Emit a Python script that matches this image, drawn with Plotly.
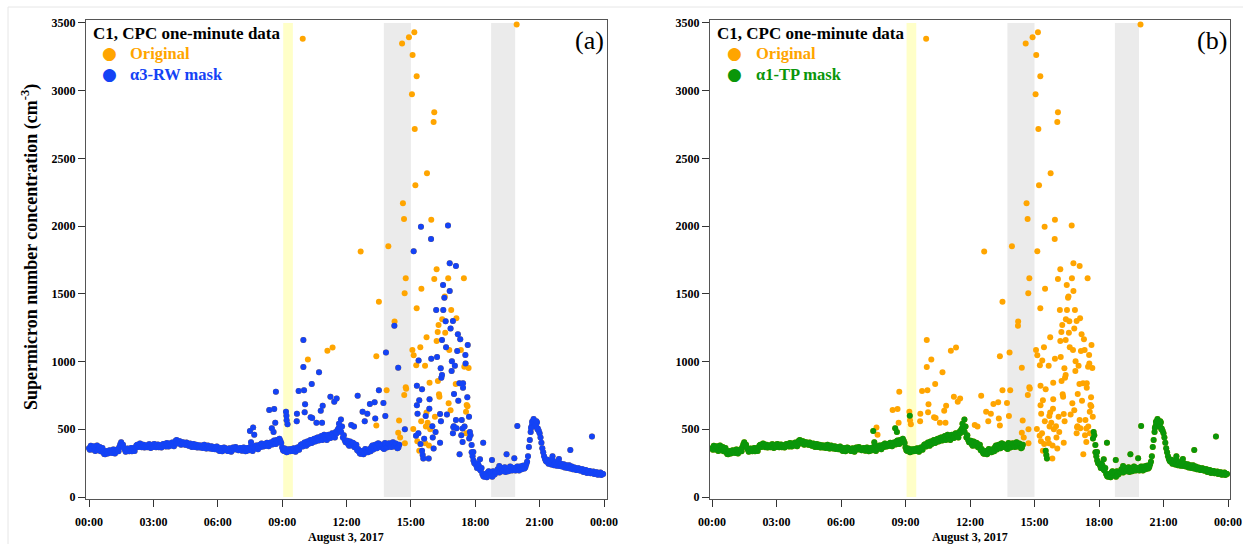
import plotly.graph_objects as go

# ---------------- data ----------------
# baseline one-minute concentrations sampled every 5 minutes (cm^-3), None = no baseline (cloud)
base_vals = [
    # 00
    360, 378, 350, 372, 365, 345, 370, 352, 330, 315, 335, 325,
    # 01
    340, 325, 348, 335, 352, 370, 405, 385, 350, 340, 355, 345,
    # 02
    338, 352, 365, 385, 372, 390, 378, 365, 380, 372, 388, 375,
    # 03
    370, 385, 378, 368, 382, 375, 390, 372, 385, 395, 380, 392,
    # 04
    405, 420, 398, 410, 392, 400, 385, 395, 378, 390, 382, 370,
    # 05
    385, 372, 365, 380, 368, 375, 360, 372, 365, 355, 368, 360,
    # 06
    352, 340, 358, 345, 362, 350, 340, 355, 348, 362, 370, 355,
    # 07
    348, 360, 345, 352, 340, 358, 365, 352, 372, 360, 378, 365,
    # 08
    370, 385, 392, 378, 395, 385, 400, 410, 395, 420, 405, 415,
    # 09
    365, 340, 350, 335, 345, 355, 340, 352, 345, 360, 375, 390,
    # 10
    385, 400, 410, 395, 420, 405, 430, 415, 440, 425, 450, 430,
    # 11
    445, 420, 460, 435, 470, 450, 480, 495, 510, 480, 440, 420,
    # 12
    405, 390, 410, 380, 395, 370, 345, 335, 320, 340, 325, 345,
    # 13
    330, 355, 370, 350, 385, 360, 395, 370, 380, 355, 390, 370,
    # 14
    395, 370, 405, 380, 390, 365, None, None, None, None, None, None,
    # 15
    None, None, None, None, None, None, None, None, None, None, None, None,
    # 16
    None, None, None, None, None, None, None, None, None, None, None, None,
    # 17
    None, None, None, None, None, None, None, None, None, None, 330, 270,
    # 18
    250, 215, 230, 195, 170, 150, 165, 180, 160, 175, 190, 170,
    # 19
    185, 205, 190, 215, 200, 185, 210, 195, 220, 200, 215, 205,
    # 20
    210, 225, 205, 230, 220, 260, 370, 480, 540, 560, 520, 505,
    # 21
    470, 400, 330, 280, 260, 245, 265, 250, 235, 255, 240, 228,
    # 22
    245, 230, 218, 235, 225, 210, 225, 205, 215, 200, 210, 195,
    # 23
    205, 190, 198, 185, 192, 178, 188, 175, 182, 168, 180, 172,
]
# second baseline sample, 2.5 minutes after each of the above
base_vals_b = [
    348, 365, 372, 340, 380, 358, 338, 362, 318, 340, 322, 345,
    330, 350, 322, 345, 338, 390, 380, 362, 335, 358, 338, 362,
    360, 340, 380, 370, 395, 368, 385, 372, 368, 390, 362, 385,
    392, 368, 388, 380, 365, 392, 378, 398, 372, 388, 402, 375,
    415, 395, 412, 385, 405, 388, 402, 380, 395, 370, 392, 378,
    365, 382, 375, 362, 385, 358, 380, 358, 375, 368, 352, 372,
    345, 362, 338, 365, 348, 340, 360, 335, 365, 350, 358, 345,
    362, 342, 365, 338, 362, 345, 372, 340, 358, 380, 352, 385,
    395, 372, 380, 400, 375, 402, 388, 418, 392, 410, 430, 398,
    345, 358, 330, 352, 338, 342, 360, 335, 365, 348, 385, 372,
    402, 378, 392, 418, 398, 425, 410, 438, 418, 445, 420, 460,
    430, 455, 438, 450, 462, 440, 470, 505, 490, 520, 455, 405,
    415, 378, 395, 400, 368, 385, 355, 322, 338, 315, 355, 335,
    348, 338, 380, 362, 372, 395, 372, 385, 360, 398, 365, 395,
    380, 398, 372, 395, 360, 385, None, None, None, None, None, None,
    None, None, None, None, None, None, None, None, None, None, None, None,
    None, None, None, None, None, None, None, None, None, None, None, None,
    None, None, None, None, None, None, None, None, None, None, 300, 250,
    235, 245, 205, 215, 155, 170, 145, 190, 175, 150, 165, 185,
    205, 180, 210, 190, 220, 200, 190, 225, 195, 215, 195, 225,
    195, 215, 230, 210, 240, 300, 420, 520, 565, 530, 550, 490,
    440, 360, 300, 265, 275, 255, 240, 270, 245, 230, 252, 240,
    225, 242, 230, 215, 235, 220, 205, 218, 200, 212, 195, 205,
    185, 200, 178, 192, 175, 185, 170, 180, 165, 175, 162, 170,
]
base_step_min = 5

# scattered points above the baseline: hour of day, value, kept by a3-RW mask, kept by a1-TP mask
spk_h = [7.50, 7.65, 7.70, 7.55, 8.40, 8.63, 8.68, 8.52, 8.60, 8.71, 9.18, 9.20, 9.21, 9.25,
         9.69, 9.68, 9.77, 9.99, 9.99, 10.02, 10.07, 10.05, 10.20, 10.38, 10.40, 10.72, 10.86,
         10.60, 10.89, 10.80, 10.33, 11.11, 11.35, 11.25, 11.43, 11.54, 11.74, 11.65, 12.22,
         12.35, 12.52, 12.66, 12.75, 12.97, 12.85, 13.09, 13.31, 13.34, 13.39, 13.39, 13.51,
         13.51, 13.72, 13.81, 13.84, 13.87, 13.95, 14.23, 14.24, 14.41, 14.41, 14.45, 14.50,
         14.59, 14.63, 14.68, 14.69, 14.71, 14.72, 14.72, 14.76, 14.76, 14.78, 14.91, 15.05,
         15.08, 15.07, 15.11, 15.13, 15.13, 15.16, 15.18, 15.21, 15.24, 15.25, 15.27, 15.27,
         15.28, 15.28, 15.30, 15.31, 15.36, 15.39, 15.39, 15.44, 15.45, 15.47, 15.49, 15.52,
         15.52, 15.58, 15.55, 15.66, 15.67, 15.69, 15.73, 15.73, 15.75, 15.78, 15.83, 15.84,
         15.86, 15.87, 15.87, 15.90, 15.94, 15.95, 15.95, 16.00, 16.06, 16.06, 16.09, 16.09,
         16.12, 16.18, 16.20, 16.20, 16.22, 16.25, 16.26, 16.29, 16.31, 16.33, 16.36, 16.36,
         16.39, 16.42, 16.45, 16.45, 16.46, 16.50, 16.51, 16.56, 16.58, 16.60, 16.62, 16.64,
         16.73, 16.74, 16.76, 16.79, 16.81, 16.81, 16.85, 16.88, 16.90, 16.91, 16.96, 16.96,
         16.98, 17.00, 17.01, 17.05, 17.09, 17.10, 17.10, 17.12, 17.13, 17.16, 17.19, 17.21,
         17.26, 17.27, 17.30, 17.33, 17.37, 17.41, 17.41, 17.43, 17.43, 17.47, 17.49, 17.54,
         17.55, 17.57, 17.60, 17.63, 17.64, 17.65, 17.69, 17.71, 17.72, 17.75, 17.78, 17.83,
         17.91, 18.37, 18.22, 18.78, 19.12, 19.46, 19.82, 19.96, 19.93, 9.96, 20.65, 20.72,
         20.80, 20.85, 20.90, 20.60, 21.60, 22.43, 23.44, 21.90,
         15.35, 15.62, 15.70, 16.15, 16.40, 16.68, 16.85, 17.35, 17.50, 17.58, 15.48, 16.02]
spk_v = [487, 514, 460, 404, 642, 650, 549, 507, 480, 778, 630, 600, 566, 537,
         615, 560, 783, 1159, 960, 788, 684, 625, 1016, 834, 584, 921, 549,
         549, 674, 637, 588, 1080, 1103, 741, 704, 728, 573, 540, 532,
         520, 748, 1812, 630, 615, 560, 687, 699, 580, 1039, 527, 788,
         1442, 694, 598, 1066, 788, 1851, 1265, 1295, 955, 475, 564, 440,
         3348, 2169, 2053, 753, 1504, 500, 396, 1615, 810, 800, 3394, 2973,
         3264, 1085, 502, 1814, 1046, 3431, 2717, 2302, 453, 972, 3106, 1393,
         822, 677, 411, 615, 1007, 714, 342, 1105, 391, 1996, 1538, 795,
         342, 285, 310, 970, 396, 598, 1179, 623, 2390, 549, 285, 381,
         652, 844, 721, 500, 1905, 2048, 1021, 522, 359, 2769, 2841, 1610,
         593, 1381, 1681, 1152, 1034, 1218, 857, 1270, 758, 740, 613, 401,
         950, 881, 901, 1159, 1312, 1565, 1381, 1472, 1480, 1213, 1297, 1105,
         2004, 1615, 692, 1085, 1725, 1521, 1245, 1381, 930, 1002, 1300, 470,
         515, 522, 761, 970, 834, 1706, 569, 1319, 507, 1078, 1201, 711,
         839, 315, 1164, 1085, 569, 505, 406, 839, 807, 1615, 962, 1048,
         985, 630, 680, 736, 670, 1122, 952, 593, 431, 480, 455, 384,
         332, 401, 278, 273, 229, 315, 286, 524, 3488, 3384, 555, 576,
         530, 560, 500, 510, 300, 347, 446, 280,
         470, 430, 520, 480, 560, 610, 640, 455, 520, 470, 560, 440]
spk_rw = [1, 1, 1, 1, 1, 1, 1, 1, 1, 1, 1, 1, 1, 1,
          1, 1, 1, 1, 1, 1, 1, 1, 0, 1, 1, 1, 1,
          1, 1, 1, 1, 0, 0, 1, 1, 1, 1, 1, 1,
          1, 1, 0, 1, 1, 1, 1, 1, 1, 0, 0, 1,
          0, 1, 1, 1, 0, 0, 1, 0, 1, 0, 0, 0,
          0, 0, 0, 0, 0, 1, 0, 0, 0, 0, 0, 0,
          0, 0, 0, 1, 0, 0, 0, 0, 1, 0, 0, 0,
          1, 1, 0, 1, 1, 1, 0, 0, 1, 1, 0, 1,
          1, 1, 1, 0, 0, 1, 0, 0, 0, 0, 1, 0,
          1, 0, 1, 0, 1, 0, 1, 1, 1, 0, 0, 0,
          0, 1, 0, 0, 1, 0, 0, 0, 0, 0, 1, 1,
          1, 1, 1, 1, 0, 1, 1, 1, 0, 0, 1, 1,
          1, 0, 0, 0, 1, 1, 1, 0, 1, 1, 1, 1,
          1, 1, 1, 1, 0, 1, 1, 0, 1, 1, 1, 1,
          1, 1, 1, 0, 1, 1, 1, 1, 1, 0, 0, 1,
          1, 0, 0, 1, 0, 1, 0, 1, 1, 1, 1, 1,
          1, 1, 1, 1, 1, 1, 1, 1, 0, 0, 1, 1,
          1, 1, 1, 1, 1, 1, 1, 1,
          1, 1, 0, 1, 1, 1, 0, 1, 1, 0, 0, 1]
spk_tp = [1, 0, 0, 1, 0, 0, 0, 1, 1, 0, 0, 1, 0, 0,
          0, 0, 0, 0, 0, 0, 0, 0, 0, 0, 0, 0, 0,
          0, 0, 0, 0, 0, 0, 0, 0, 0, 1, 1, 0,
          0, 0, 0, 0, 0, 0, 0, 0, 0, 0, 0, 0,
          0, 0, 0, 0, 0, 0, 0, 0, 0, 0, 0, 0,
          0, 0, 0, 0, 0, 0, 0, 0, 0, 0, 0, 0,
          0, 0, 0, 0, 0, 0, 0, 0, 0, 0, 0, 0,
          0, 0, 0, 0, 0, 0, 0, 0, 0, 0, 0, 0,
          1, 1, 1, 0, 0, 0, 0, 0, 0, 0, 0, 0,
          0, 0, 0, 0, 0, 0, 0, 0, 0, 0, 0, 0,
          0, 0, 0, 0, 0, 0, 0, 0, 0, 0, 0, 0,
          0, 0, 0, 0, 0, 0, 0, 0, 0, 0, 0, 0,
          0, 0, 0, 0, 0, 0, 0, 0, 0, 0, 0, 0,
          0, 0, 0, 0, 0, 0, 0, 0, 0, 0, 0, 0,
          0, 0, 0, 0, 0, 0, 0, 0, 0, 0, 0, 0,
          0, 0, 0, 0, 0, 0, 0, 0, 1, 1, 1, 1,
          1, 1, 1, 1, 1, 1, 1, 1, 0, 0, 1, 1,
          1, 1, 1, 1, 1, 1, 1, 1,
          0, 0, 0, 0, 0, 0, 0, 0, 0, 0, 0, 0]

yellow_band = (9.05, 9.50)
grey_bands = [(13.74, 15.00), (18.74, 19.86)]
tick_hours = [0, 3, 6, 9, 12, 15, 18, 21, 24]
tick_text = ["00:00", "03:00", "06:00", "09:00", "12:00", "15:00", "18:00", "21:00", "00:00"]
y_ticks = [0, 500, 1000, 1500, 2000, 2500, 3000, 3500]

ORANGE = "#FFA500"
BLUE = "#1443F5"
GREEN = "#0A960A"
FONT = "Liberation Serif"

# ---------------- assemble ----------------
step_h = base_step_min / 60
bh, bv = [], []
for i, (va, vb) in enumerate(zip(base_vals, base_vals_b)):
    if va is not None:
        bh.append(i * step_h); bv.append(va)
    if vb is not None:
        bh.append(i * step_h + step_h / 2); bv.append(vb)

all_h = bh + spk_h
all_v = bv + spk_v
rw_h = bh + [h for h, k in zip(spk_h, spk_rw) if k]
rw_v = bv + [v for v, k in zip(spk_v, spk_rw) if k]
tp_h = bh + [h for h, k in zip(spk_h, spk_tp) if k]
tp_v = bv + [v for v, k in zip(spk_v, spk_tp) if k]

W, H = 1243, 544
ML, MR, MT, MB = 0, 0, 20, 45
plot_h = H - MT - MB

def px(x):
    return x / W

def py(y):
    return (H - MB - y) / plot_h

fig = go.Figure()
msize = 6
for xa, ya, mh, mv, col in [("x", "y", rw_h, rw_v, BLUE), ("x2", "y2", tp_h, tp_v, GREEN)]:
    fig.add_trace(go.Scatter(x=all_h, y=all_v, mode="markers", xaxis=xa, yaxis=ya,
                             marker=dict(color=ORANGE, size=msize), showlegend=False))
    fig.add_trace(go.Scatter(x=mh, y=mv, mode="markers", xaxis=xa, yaxis=ya,
                             marker=dict(color=col, size=msize), showlegend=False))

# axes
ax_common = dict(showline=True, mirror=True, linecolor="#555555", linewidth=1, automargin=False,
                 ticks="outside", ticklen=7, tickcolor="#333333", showgrid=False, zeroline=False,
                 tickfont=dict(family=FONT, size=12, color="black", weight="bold"))
fig.update_layout(
    xaxis=dict(domain=[px(86), px(607)], range=[-0.14, 24.14], tickvals=tick_hours, ticktext=tick_text,
               ticklabelstandoff=5, anchor="y", **ax_common),
    yaxis=dict(domain=[0, 1], range=[-14.8, 3522], tickvals=y_ticks, anchor="x", **ax_common),
    xaxis2=dict(domain=[px(710), px(1230)], range=[-0.093, 24.093], tickvals=tick_hours, ticktext=tick_text,
                ticklabelstandoff=5, anchor="y2", **ax_common),
    yaxis2=dict(domain=[0, 1], range=[-14.8, 3522], tickvals=y_ticks, anchor="x2", **ax_common),
)

shapes = []
for xr, yr in [("x", "y"), ("x2", "y2")]:
    shapes.append(dict(type="rect", xref=xr, yref=yr, x0=yellow_band[0], x1=yellow_band[1], y0=0, y1=3500,
                       fillcolor="#FFFFC8", line=dict(width=0), layer="below"))
    for g0, g1 in grey_bands:
        shapes.append(dict(type="rect", xref=xr, yref=yr, x0=g0, x1=g1, y0=0, y1=3500,
                           fillcolor="#EBEBEB", line=dict(width=0), layer="below"))
shapes.append(dict(type="rect", xref="paper", yref="paper", x0=px(8), x1=px(1250), y0=py(7), y1=py(560),
                   line=dict(color="#E6E6E6", width=1), layer="below"))

ann = []
def text(x, y, s, size, color="black", xanchor="left", angle=0, family=FONT):
    ann.append(dict(xref="paper", yref="paper", x=px(x), y=py(y), text=s, showarrow=False,
                    xanchor=xanchor, yanchor="middle", textangle=angle,
                    font=dict(family=family, size=size, color=color)))

panels = [(91, 109, 128, "<b>α3-RW mask</b>", BLUE, 589, "(a)", 346),
          (715, 734, 754, "<b>α1-TP mask</b>", GREEN, 1212, "(b)", 970)]
for tx, dx, lx, mname, mcol, labx, lab, datex in panels:
    text(tx, 33, "<b>C1, CPC one-minute data</b>", 17)
    text(dx, 53, "●", 17, ORANGE, "center", family="DejaVu Sans")
    text(lx, 53, "<b>Original</b>", 16.5, ORANGE)
    text(dx, 74, "●", 17, mcol, "center", family="DejaVu Sans")
    text(lx, 74, mname, 16.5, mcol)
    text(labx, 40, lab, 26, "black", "center")
    text(datex, 537, "<b>August 3, 2017</b>", 12, "black", "center")

text(30, 247, "<b>Supermicron number concentration (cm<sup>-3</sup>)</b>", 18, "black", "center", angle=-90)

fig.update_layout(width=W, height=H, margin=dict(l=ML, r=MR, t=MT, b=MB),
                  paper_bgcolor="white", plot_bgcolor="white",
                  shapes=shapes, annotations=ann, showlegend=False)

fig.write_html("out.html")
